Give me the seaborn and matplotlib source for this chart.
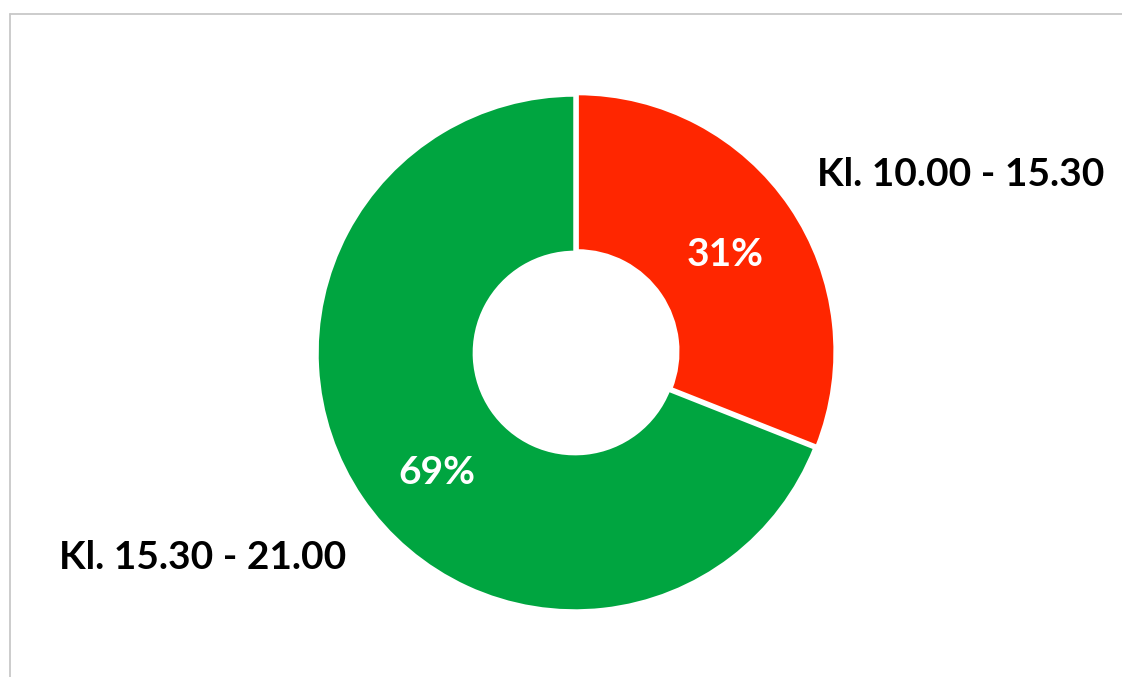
import matplotlib
matplotlib.use('Agg')
import matplotlib.pyplot as plt
from matplotlib.lines import Line2D
import seaborn as sns

# 데이터
labels = ['Kl. 10.00 - 15.30', 'Kl. 15.30 - 21.00']
shares = [31, 69]
colors = ['#FF2600', '#00A540']

sns.set_theme(style='white')
plt.rcParams['font.family'] = ['Lato', 'DejaVu Sans']

W, H = 1122, 677
fig = plt.figure(figsize=(W / 100, H / 100), dpi=100)
fig.patch.set_facecolor('white')

# 회색 테두리 (위, 왼쪽)
fig.add_artist(Line2D([9.5 / W, 1.0], [1 - 13.5 / H, 1 - 13.5 / H], color='#C8C8C8', lw=1.3))
fig.add_artist(Line2D([9.5 / W, 9.5 / W], [0, 1 - 13.5 / H], color='#C8C8C8', lw=1.3))

# 도넛 위치
cx, cy, r = 575, 353, 258
ax = fig.add_axes([(cx - r) / W, (H - cy - r) / H, 2 * r / W, 2 * r / H])

wedges, _ = ax.pie(shares, colors=colors, startangle=90, counterclock=False,
                   explode=[0.01, 0], radius=1,
                   wedgeprops=dict(width=0.61, edgecolor='white', linewidth=2.5))
for w in wedges:
    w.set_clip_on(False)
ax.set_xlim(-1, 1)
ax.set_ylim(-1, 1)
ax.set_aspect('equal')
ax.axis('off')

# 퍼센트 라벨
pct_pos = [(0.581, 0.380), (-0.535, -0.465)]
for (x, y), s in zip(pct_pos, shares):
    ax.text(x, y, f'{s}%', color='white', fontsize=28, fontweight='bold',
            ha='center', va='center', clip_on=False)

# 범주 라벨
lab_pos = [(1.496, 0.690), (-1.442, -0.791)]
for (x, y), lab in zip(lab_pos, labels):
    ax.text(x, y, lab, color='black', fontsize=28, fontweight='bold',
            ha='center', va='center', clip_on=False)

fig.savefig('out.png', dpi=100)
